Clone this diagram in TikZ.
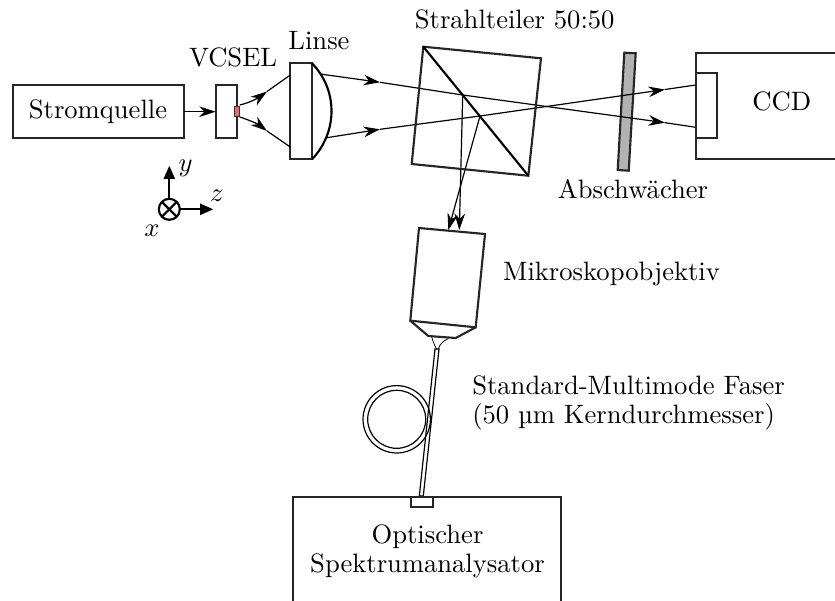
\documentclass[tikz,border=0pt]{standalone}
\usetikzlibrary{arrows.meta}
\tikzset{
  thickline/.style={line width=0.8pt,draw=black!85},
  ray/.style={line width=0.45pt,draw=black},
  label/.style={anchor=base,inner sep=0pt,outer sep=0pt,text=black},
  tip/.style={-{Stealth[length=6.2pt,width=4pt,inset=2pt]}},
  axtip/.style={line width=0.8pt,-{Stealth[length=5pt,width=4.2pt,inset=0pt]}},
}
\definecolor{laser}{RGB}{235,100,125}
\begin{document}
\begin{tikzpicture}[x=0.376pt,y=-0.376pt]
\useasboundingbox (0,0) rectangle (835,600);
% coordinates
\coordinate (vtop) at (239.7,105);
\coordinate (vbot) at (239.7,117);
\coordinate (ltop) at (290.3,75);
\coordinate (lbot) at (290.3,147);
\coordinate (vtopm) at (267,91.5);
\coordinate (vbotm) at (267,131);
\coordinate (rtopstart) at (320,74);
\coordinate (rbotstart) at (326.7,137.7);
\coordinate (rtopm) at (380,82.3);
\coordinate (rbotm) at (380,129.3);
\coordinate (htop) at (462.7,95);
\coordinate (hbot) at (480,116);
\coordinate (ctm) at (665,122.7);
\coordinate (cbm) at (665,89.5);
\coordinate (ctend) at (695.7,127.3);
\coordinate (cbend) at (695.7,85);
\coordinate (dn1) at (459.3,230);
\coordinate (dn2) at (448.3,230);
% Boxes
\draw[thickline] (12.7,85) rectangle (183.7,138.3);
\node[label] (srct) at (98,118) {Stromquelle};
\node[label] (vt) at (233,66.7) {VCSEL};
\node[label] (lt) at (319,50) {Linse};
\node[label] (st) at (514.7,29) {Strahlteiler 50:50};
\node[label] (at) at (633,198) {Abschwächer};
\node[label] (mt) at (611.5,280) {Mikroskopobjektiv};
\node[label,anchor=base west] (ft1) at (472.3,394) {Standard-Multimode Faser};
\node[label,anchor=base west] (ft2) at (472.3,423) {(50 µm Kerndurchmesser)};
\node[label] (ot1) at (427.5,543.3) {Optischer};
\node[label] (ot2) at (427.5,572.7) {Spektrumanalysator};
\node[label] (ccdt) at (781.7,110.7) {CCD};
% VCSEL
\draw[thickline] (215.7,85) rectangle (237.3,138.3);
\draw[line width=0.4pt,draw=black!80,fill=laser] (234.7,106.7) rectangle (239.7,116.7);
\coordinate (vin) at (215.7,111.7);
\draw[ray,tip] (183.7,111.7) -- (vin);
% Lens
\draw[thickline,fill=white] (290.3,63.3) rectangle (312,159.3);
\draw[line width=0.8pt] (312,63.3) .. controls (338,90) and (338,132) .. (312,159.3);
% Rays
\draw[ray,tip] (vtop) .. controls (249,103) and (258,98) .. (vtopm);
\draw[ray] (vtopm) -- (ltop);
\draw[ray,tip] (vbot) .. controls (249,120) and (258,124) .. (vbotm);
\draw[ray] (vbotm) -- (lbot);
\draw[ray,tip] (rtopstart) -- (rtopm);
\draw[ray,tip] (rbotstart) -- (rbotm);
\draw[ray] (rtopm) -- (htop);
\draw[ray] (rbotm) -- (hbot);
% Attenuator
\draw[thickline,fill=black!30] (624.3,52.7) -- (635.7,53.3) -- (628.7,170.7) -- (617.7,170) -- cycle;
% beams after cube
\draw[ray,tip] (htop) -- (ctm);
\draw[ray] (ctm) -- (ctend);
\draw[ray,tip] (hbot) -- (cbm);
\draw[ray] (cbm) -- (cbend);
\draw[ray,tip] (htop) -- (dn1);
\draw[ray,tip] (hbot) -- (dn2);
% Cube
\draw[thickline] (423.3,46.7) -- (541,58.3) -- (528.3,175.7) -- (411.7,164) -- cycle;
\draw[line width=0.8pt] (423.3,46.7) -- (528.3,175.7);
% CCD
\draw[thickline] (836,52.7) -- (695.7,52.7) -- (695.7,159.3) -- (836,159.3);
\draw[thickline] (695.7,73.3) rectangle (717.3,138.3);
% Objective
\draw[thickline] (419,228) -- (485,234) -- (475.7,327.3) -- (410.3,320.7) -- cycle;
\draw[thickline] (410.3,320.7) -- (428.3,336) -- (455.7,338) -- (475.7,327.3);
\draw[ray,line width=0.3pt] (431.7,337) .. controls (433,342) and (435,346) .. (436.7,349);
\draw[ray,line width=0.3pt] (448.3,338.5) .. controls (443,341) and (439,345) .. (438.5,349);
% Fibre
\draw[ray] (435,349) -- (439,349) -- (423.3,496) -- (419.3,496) -- cycle;
% Coil
\draw[ray] (396.7,419.3) circle [radius=33.7];
\draw[ray] (396.7,419.3) circle [radius=29];
% Analyser with connector
\draw[thickline] (293.3,601) -- (293.3,496.7) -- (560.7,496.7) -- (560.7,601);
\draw[thickline,fill=white] (410.7,496.7) rectangle (432.7,507.3);
% Axes
\coordinate (ax) at (169.3,209.3);
\draw[line width=0.8pt] (ax) circle [radius=10.5];
\draw[line width=0.8pt] (161.9,201.9) -- (176.7,216.7) (161.9,216.7) -- (176.7,201.9);
\draw[axtip] (169.3,198.8) -- (169.3,165.7);
\draw[axtip] (179.8,209.3) -- (213.3,209.3);
\node[label] (ylab) at (185.7,171) {$y$};
\node[label] (zlab) at (217,201.7) {$z$};
\node[label] (xlab) at (152,236) {$x$};
\end{tikzpicture}
\end{document}
